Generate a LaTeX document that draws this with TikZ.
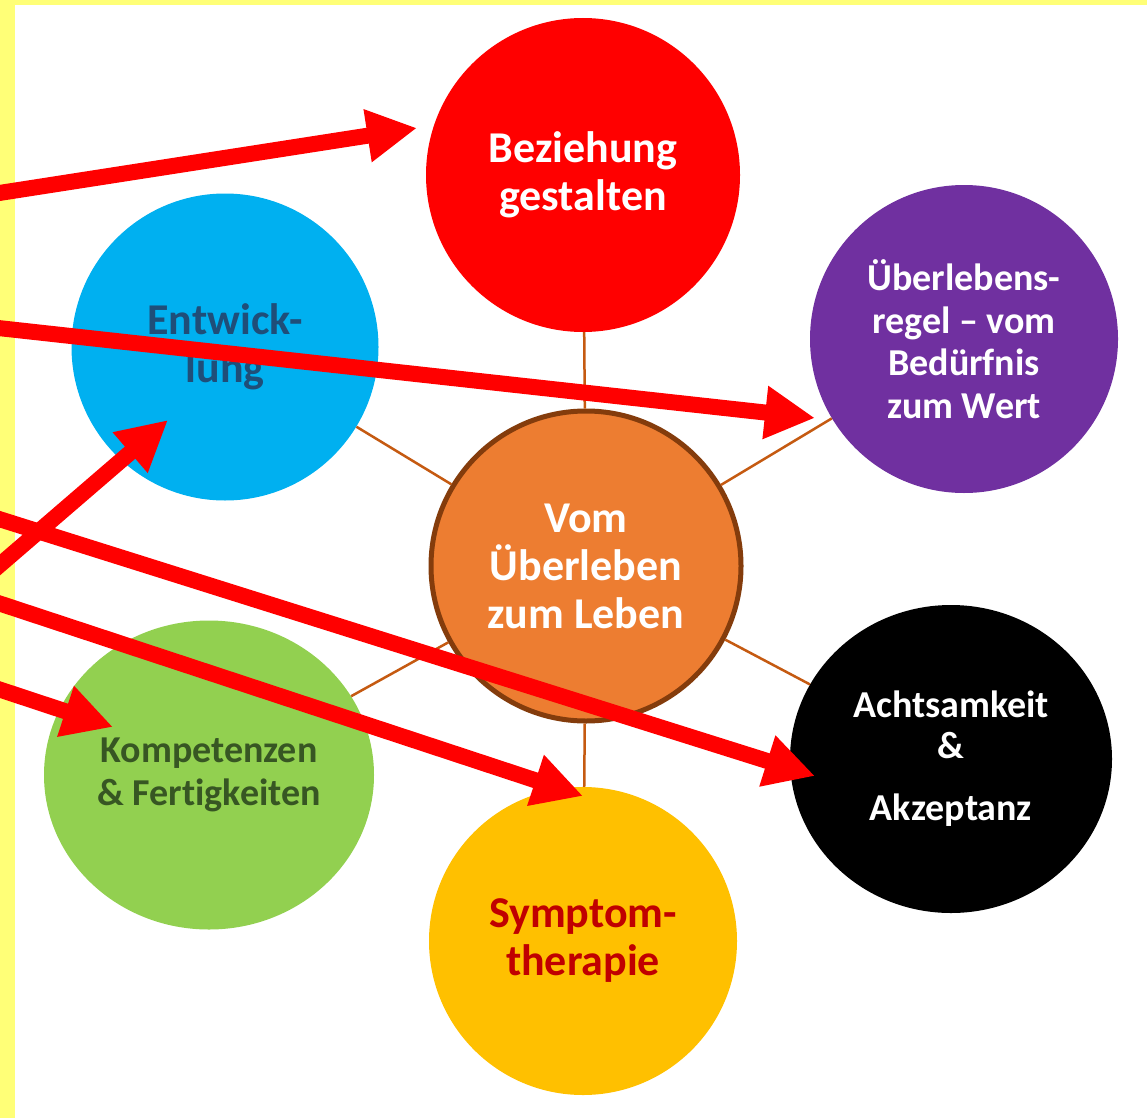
\documentclass[tikz,border=0pt]{standalone}
\usepackage{fontspec}
\setmainfont{Carlito}[Ligatures={TeX,NoCommon}]
\definecolor{frameyellow}{HTML}{FFFF77}
\definecolor{bezred}{HTML}{FF0000}
\definecolor{regpurple}{HTML}{7030A0}
\definecolor{entblue}{HTML}{00B0F0}
\definecolor{entdark}{HTML}{1F4E79}
\definecolor{midorange}{HTML}{ED7D31}
\definecolor{midbrown}{HTML}{843C0C}
\definecolor{komgreen}{HTML}{92D050}
\definecolor{komdark}{HTML}{375623}
\definecolor{symgold}{HTML}{FFC000}
\definecolor{symdark}{HTML}{C00000}
\definecolor{linkbrown}{HTML}{C55A11}
\usetikzlibrary{arrows.meta,shapes.geometric}

\tikzset{
  bubble/.style={circle,inner sep=0pt,align=center,minimum size=#1},
  bigtext/.style={font=\bfseries\fontsize{44}{48}\selectfont},
  smalltext/.style={font=\bfseries\fontsize{38}{42.5}\selectfont},
  link/.style={draw=linkbrown,line width=2.5pt},
  pointer/.style={draw=bezred,line width=16pt,-{Triangle[length=50pt,width=50pt]}}
}

\begin{document}
\begin{tikzpicture}[x=1pt,y=-1pt]
    \clip (0,0) rectangle (1147,1118);
    % Frame
    \fill[frameyellow] (0,0) rectangle (1147,1118);
    \fill[white] (15,5) rectangle (1147,1118);

    % Topics
    \node[bubble=314,fill=bezred,text=white,bigtext] (bez) at (583,175) {Beziehung\\gestalten};
    \node[bubble=308,fill=regpurple,text=white,smalltext] (reg) at (964,339)
      {Überlebens-\\regel – vom\\Bedürfnis\\zum Wert};
    \node[bubble=307,fill=entblue,text=entdark,bigtext] (ent) at (225,347) {Entwick-\\lung};
    \node[bubble=310,fill=midorange,draw=midbrown,line width=5pt,text=white,bigtext] (mid) at (586,566)
      {Vom\\Überleben\\zum Leben};
    \node[ellipse,inner sep=0pt,minimum width=322,minimum height=308,align=center,
      fill=black,text=white,font=\bfseries\fontsize{38}{41}\selectfont] (akz) at (951,759)
      {Achtsamkeit\\\&\\[21pt]Akzeptanz};
    \node[ellipse,inner sep=0pt,minimum width=330,minimum height=309,align=center,
      fill=komgreen,text=komdark,font=\bfseries\fontsize{38}{43}\selectfont] (kom) at (209,775)
      {Kompetenzen\\\& Fertigkeiten};
    \node[bubble=308,fill=symgold,text=symdark,bigtext] (sym) at (583,941) {Symptom-\\therapie};

    % Spokes
    \foreach \outer in {bez,reg,ent,akz,kom,sym}
      \draw[link] (mid) -- (\outer);

    % Red arrows
    \coordinate (s1) at (-20,196);  \coordinate (e1) at (417,128);
    \coordinate (s2) at (-20,326);  \coordinate (e2) at (815,418);
    \coordinate (s3) at (-20,582);  \coordinate (e3) at (168,420);
    \coordinate (s4) at (-20,513);  \coordinate (e4) at (815,776);
    \coordinate (s5) at (-20,597);  \coordinate (e5) at (583,796);
    \coordinate (s6) at (-20,683);  \coordinate (e6) at (113,727);
    \foreach \i in {1,...,6}
      \draw[pointer] (s\i) -- (e\i);
  \end{tikzpicture}
\end{document}
